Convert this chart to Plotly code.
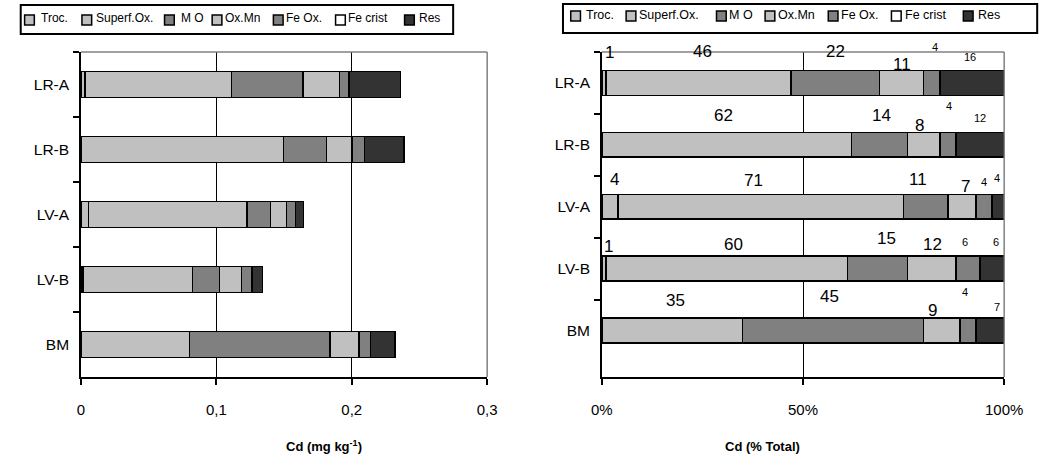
import plotly.graph_objects as go

# ---- data -------------------------------------------------------------
categories = ["LR-A", "LR-B", "LV-A", "LV-B", "BM"]
fractions = ["Troc.", "Superf.Ox.", "M O", "Ox.Mn", "Fe Ox.", "Fe crist", "Res"]

# Cd content per fraction (mg kg-1)
cd_troc = [0.003, 0.0, 0.0055, 0.0014, 0.0]
cd_superf = [0.108, 0.1495, 0.117, 0.081, 0.080]
cd_mo = [0.053, 0.032, 0.0175, 0.020, 0.104]
cd_oxmn = [0.027, 0.0185, 0.0117, 0.016, 0.0215]
cd_feox = [0.007, 0.0095, 0.0066, 0.008, 0.0083]
cd_fecrist = [0.0, 0.0, 0.0, 0.0, 0.0]
cd_res = [0.038, 0.029, 0.0062, 0.0076, 0.018]

# Cd per fraction as % of total
pct_troc = [1, 0, 4, 1, 0]
pct_superf = [46, 62, 71, 60, 35]
pct_mo = [22, 14, 11, 15, 45]
pct_oxmn = [11, 8, 7, 12, 9]
pct_feox = [4, 4, 4, 6, 4]
pct_fecrist = [0, 0, 0, 0, 0]
pct_res = [16, 12, 4, 6, 7]

x_ticks_abs = [0, 0.1, 0.2, 0.3]
x_ticklabels_abs = ["0", "0,1", "0,2", "0,3"]
x_ticks_pct = [0, 50, 100]
x_ticklabels_pct = ["0%", "50%", "100%"]

# ---- styling ----------------------------------------------------------
W, H = 1063, 466
FONT = "Liberation Sans, Arial, sans-serif"
colors = ["#c0c0c0", "#c0c0c0", "#808080", "#c0c0c0", "#808080", "#ffffff", "#333333"]
label_sizes = [17, 17, 17, 17, 11, 11, 11]

# label offsets in pixels (up, right) per category and fraction
label_up = [
    [30.5, 31.5, 31.5, 18.5, 35.5, None, 25.5],
    [None, 29, 29, 19, 39, None, 27],
    [27, 26.5, 27, 20, 25, None, 29],
    [22, 24.5, 30.5, 24.5, 26.5, None, 26.5],
    [None, 30, 34, 20, 38.5, None, 24],
]
label_right = [
    [6, 4, 0, 0, 3, 0, -2],
    [0, -3, 2, -4, 1, 0, 0],
    [5, -7, -8, 4, 0, 0, -3],
    [5, 7, 9, 1, -3, 0, 4],
    [0, 3, -4, -9, -3, 0, 7],
]


def px(x):
    return x / W


def py(y):
    return 1 - y / H


abs_series = [cd_troc, cd_superf, cd_mo, cd_oxmn, cd_feox, cd_fecrist, cd_res]
pct_series = [pct_troc, pct_superf, pct_mo, pct_oxmn, pct_feox, pct_fecrist, pct_res]

fig = go.Figure()

for name, vals, col in zip(fractions, abs_series, colors):
    fig.add_trace(go.Bar(
        y=categories, x=vals, name=name, orientation="h",
        marker=dict(color=col, line=dict(color="black", width=1.5)),
        xaxis="x", yaxis="y", showlegend=False,
    ))

for name, vals, col in zip(fractions, pct_series, colors):
    fig.add_trace(go.Bar(
        y=categories, x=vals, name=name, orientation="h",
        marker=dict(color=col, line=dict(color="black", width=1.5)),
        xaxis="x2", yaxis="y2", showlegend=False,
    ))

annotations = []

# percentage labels above the stacked segments
for ci, cat in enumerate(categories):
    start = 0
    for fi in range(len(fractions)):
        v = pct_series[fi][ci]
        if v and label_up[ci][fi] is not None:
            annotations.append(dict(
                x=start + v / 2, y=cat, xref="x2", yref="y2",
                text=str(v), showarrow=False,
                yshift=label_up[ci][fi], xshift=label_right[ci][fi],
                font=dict(size=label_sizes[fi], color="#000000", family=FONT),
            ))
        start += v

# axis titles
annotations.append(dict(
    x=px(281), y=py(446), xref="paper", yref="paper", yanchor="middle",
    text="<b>Cd (mg kg<sup>-1</sup>)</b>", showarrow=False,
    font=dict(size=13, color="black", family=FONT),
))
annotations.append(dict(
    x=px(814), y=py(446), xref="paper", yref="paper", yanchor="middle",
    text="<b>Cd (% Total)</b>", showarrow=False,
    font=dict(size=13, color="black", family=FONT),
))

shapes = []

# plot-area borders (top and right, grey)
for xr, yr in (("x domain", "y domain"), ("x2 domain", "y2 domain")):
    shapes.append(dict(type="line", xref=xr, yref=yr, x0=0, x1=1, y0=1, y1=1,
                       line=dict(color="#808080", width=1.5)))
    shapes.append(dict(type="line", xref=xr, yref=yr, x0=1, x1=1, y0=0, y1=1,
                       line=dict(color="#808080", width=1.5)))

# legends drawn as boxes with swatches
legend_specs = [
    dict(box=(10, 5, 455, 34), sq_y=20, txt_y=18, size=12,
         items=[(14, 29), (73, 85), (158, 173), (207, 218), (270, 281), (334, 345), (405, 418)]),
    dict(box=(568, 4, 1056, 33), sq_y=16, txt_y=15, size=12.5,
         items=[(576, 590), (633, 644), (726, 737), (776, 787), (841, 852), (906, 918), (980, 993)]),
]
for spec in legend_specs:
    x0, y0, x1, y1 = spec["box"]
    shapes.append(dict(type="rect", xref="paper", yref="paper",
                       x0=px(x0), x1=px(x1), y0=py(y1), y1=py(y0),
                       line=dict(color="black", width=2), fillcolor="white", layer="below"))
    for (sx, tx), name, col in zip(spec["items"], fractions, colors):
        shapes.append(dict(type="rect", xref="paper", yref="paper",
                           x0=px(sx), x1=px(sx + 10),
                           y0=py(spec["sq_y"] + 5), y1=py(spec["sq_y"] - 5),
                           line=dict(color="black", width=1.5), fillcolor=col))
        annotations.append(dict(
            x=px(tx), y=py(spec["txt_y"]), xref="paper", yref="paper",
            text=name, showarrow=False, xanchor="left", yanchor="middle",
            font=dict(size=spec["size"], color="black", family=FONT),
        ))

x_common = dict(
    showline=True, linecolor="black", linewidth=1.5,
    ticks="outside", ticklen=6, tickwidth=1.5, tickcolor="black",
    showgrid=True, gridcolor="black", gridwidth=1, zeroline=False,
    tickfont=dict(size=15, color="black", family=FONT),
    ticklabelstandoff=12, fixedrange=True,
)
y_common = dict(
    type="category", autorange="reversed",
    showline=True, linecolor="black", linewidth=1.5,
    ticks="outside", tickson="boundaries", ticklen=6, tickwidth=1.5, tickcolor="black",
    showgrid=False, zeroline=False,
    tickfont=dict(size=15.5, color="black", family=FONT),
    ticklabelstandoff=7, fixedrange=True,
)

fig.update_layout(
    width=W, height=H,
    margin=dict(l=0, r=0, t=0, b=0),
    paper_bgcolor="white", plot_bgcolor="white",
    barmode="stack", bargap=0.6,
    font=dict(family=FONT, color="black"),
    xaxis=dict(domain=[px(72), px(490)], range=[0, 0.3], tickvals=x_ticks_abs,
               ticktext=x_ticklabels_abs, anchor="y", **x_common),
    yaxis=dict(domain=[py(377), py(52)], anchor="x", **y_common),
    xaxis2=dict(domain=[px(608), px(1022)], range=[0, 100], tickvals=x_ticks_pct,
                ticktext=x_ticklabels_pct, anchor="y2", **x_common),
    yaxis2=dict(domain=[py(377), py(52)], anchor="x2", **y_common),
    annotations=annotations,
    shapes=shapes,
)

fig.write_html("out.html")
